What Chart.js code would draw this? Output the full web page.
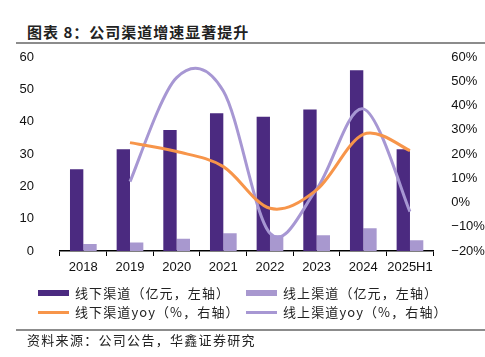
<!DOCTYPE html>
<html><head><meta charset="utf-8">
<script src="https://cdn.jsdelivr.net/npm/chart.js@4.4.1/dist/chart.umd.min.js"></script>
<style>
html,body{margin:0;padding:0;background:#fff;}
body{width:485px;height:357px;position:relative;overflow:hidden;font-family:"Noto Sans CJK SC",sans-serif;}
#title{position:absolute;left:27px;top:22px;font-size:15px;font-weight:bold;color:#222;letter-spacing:1px;line-height:20px;}
#line1{position:absolute;left:16px;right:0;top:42px;height:2px;background:#8c8c8c;}
#line2{position:absolute;left:16px;right:0;top:329px;height:2px;background:#8c8c8c;}
#src{position:absolute;left:27px;top:331px;font-size:13px;color:#222;letter-spacing:1.3px;line-height:18px;}
#wrap{position:absolute;left:0;top:0;width:485px;height:290px;}
.lg{position:absolute;font-size:13px;color:#222;line-height:18px;letter-spacing:1.1px;white-space:nowrap;}
.sw{position:absolute;}
</style></head>
<body>
<div id="title">图表 8：公司渠道增速显著提升</div>
<div id="line1"></div>
<div id="wrap"><canvas id="c" width="485" height="290"></canvas></div>
<div id="legend"></div>
<div id="line2"></div>
<div id="src">资料来源：公司公告，华鑫证券研究</div>
<script>
const categories = ['2018','2019','2020','2021','2022','2023','2024','2025H1'];
const offlineRevenue = [25.3, 31.5, 37.4, 42.6, 41.5, 43.8, 55.9, 31.5];
const onlineRevenue = [2.2, 2.6, 3.8, 5.5, 4.9, 4.9, 7.0, 3.3];
const offlineYoy = [null, 24.7, 21.0, 14.8, -2.4, 5.2, 28.1, 21.4];
const onlineYoy = [null, 8.6, 51.5, 46.0, -12.7, 5.5, 38.6, -3.8];
const seriesNames = ['线下渠道（亿元，左轴）','线上渠道（亿元，左轴）','线下渠道yoy（%，右轴）','线上渠道yoy（%，右轴）'];

const cDark = '#4B2A80', cLight = '#A898CF', cOrange = '#F7954A', cPurple = '#A797D3';
const tickFont = {family:'"Liberation Sans", Arial, sans-serif', size:13};

// Excel-like smoothing (Catmull-Rom control points)
const smoothPlugin = {
  id:'smooth',
  beforeDatasetDraw(chart, args){
    const meta = args.meta;
    if(meta.type !== 'line') return;
    const pts = meta.data.filter(p => !p.skip);
    for(let i=0;i<pts.length;i++){
      const p = pts[i], prev = pts[i-1] || p, next = pts[i+1] || p;
      const tx = (next.x - prev.x)/6, ty = (next.y - prev.y)/6;
      p.cp1x = p.x - tx; p.cp1y = p.y - ty;
      p.cp2x = p.x + tx; p.cp2y = p.y + ty;
    }
    meta.dataset._pointsUpdated = true;
  }
};

new Chart(document.getElementById('c'), {
  data: {
    labels: categories,
    datasets: [
      {type:'line', label:seriesNames[2], data:offlineYoy, yAxisID:'y1', borderColor:cOrange, borderWidth:3, pointRadius:0, tension:0.4, fill:false, order:0},
      {type:'line', label:seriesNames[3], data:onlineYoy, yAxisID:'y1', borderColor:cPurple, borderWidth:3, pointRadius:0, tension:0.4, fill:false, order:1},
      {type:'bar', label:seriesNames[0], data:offlineRevenue, yAxisID:'y', backgroundColor:cDark, categoryPercentage:0.572, barPercentage:1.0, order:2},
      {type:'bar', label:seriesNames[1], data:onlineRevenue, yAxisID:'y', backgroundColor:cLight, categoryPercentage:0.572, barPercentage:1.0, order:3}
    ]
  },
  plugins:[smoothPlugin],
  options: {
    responsive:false, animation:false,
    layout:{padding:{left:0,right:0,top:57,bottom:0}},
    plugins:{legend:{display:false}, tooltip:{enabled:false}},
    scales:{
      x:{
        grid:{display:true, drawOnChartArea:false, drawTicks:true, tickLength:5, color:'#000', offset:true},
        border:{display:true, color:'#000', width:1.5},
        ticks:{color:'#111', font:tickFont, padding:4, maxRotation:0, autoSkip:false},
        afterFit(s){ s.height = 39; }
      },
      y:{
        position:'left', min:0, max:60,
        ticks:{stepSize:10, color:'#111', font:tickFont, padding:18},
        grid:{display:false}, border:{display:false},
        afterFit(s){ s.width = 60; }
      },
      y1:{
        position:'right', min:-20, max:60,
        ticks:{stepSize:10, color:'#111', font:tickFont, padding:10, callback:v => (v<0 ? '\u2212'+Math.abs(v) : v)+'%'},
        grid:{display:false}, border:{display:false},
        afterFit(s){ s.width = 51.7; }
      }
    }
  }
});

// legend built from series names
const legendItems = [
  {name:seriesNames[0], color:cDark, kind:'box', x:38, y:284},
  {name:seriesNames[1], color:cLight, kind:'box', x:246, y:284},
  {name:seriesNames[2], color:cOrange, kind:'line', x:38, y:303},
  {name:seriesNames[3], color:cPurple, kind:'line', x:246, y:303}
];
const lg = document.getElementById('legend');
legendItems.forEach(it=>{
  const sw = document.createElement('div');
  sw.className='sw';
  sw.style.left = it.x+'px';
  sw.style.width = '31px';
  sw.style.background = it.color;
  if(it.kind==='box'){ sw.style.top=(it.y+6)+'px'; sw.style.height='6px'; }
  else { sw.style.top=(it.y+8)+'px'; sw.style.height='3px'; }
  lg.appendChild(sw);
  const t = document.createElement('div');
  t.className='lg';
  t.style.left=(it.x+37)+'px';
  t.style.top=it.y+'px';
  t.textContent = it.name;
  lg.appendChild(t);
});
</script>
</body></html>
